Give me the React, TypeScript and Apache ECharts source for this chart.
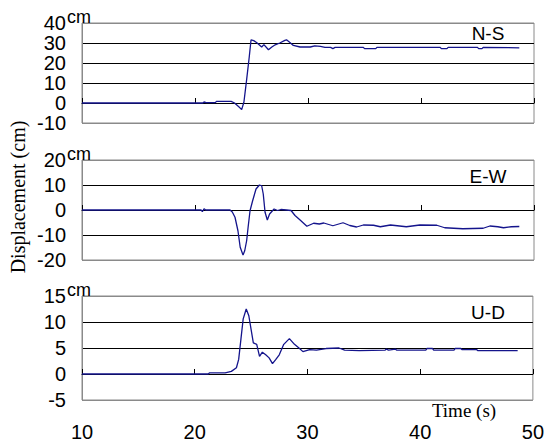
import React, { useEffect, useRef } from "react";
import * as echarts from "echarts";

// ---- Data (time in s, displacement in cm) ----
const nsData: [number, number][] = [
  [10, 0], [20.7, 0], [20.8, 0.5], [21.0, 0.2], [21.8, 0.2], [21.9, 0.8], [23.2, 0.8], [23.5, 0],
  [23.9, -2], [24.13, -3.3], [24.33, 0.5], [24.57, 11.7], [24.8, 23], [24.96, 31.6], [25.2, 31.2],
  [25.5, 30], [25.9, 28], [26.1, 29.2], [26.5, 26.6], [26.8, 28], [27.1, 29.1], [27.5, 30],
  [27.95, 31.3], [28.1, 31.6], [28.4, 30.3], [28.7, 28.8], [29.3, 28], [30.2, 28], [30.6, 28.6],
  [31.1, 28.3], [31.5, 27.8], [32.0, 27.8], [32.2, 27.2], [32.4, 27.8], [34.9, 27.8], [35.0, 27.2],
  [36.0, 27.2], [36.1, 27.8], [41.7, 27.8], [41.8, 27.2], [42.3, 27.2], [42.4, 27.8], [45.0, 27.8],
  [45.1, 27.2], [45.4, 27.2], [45.5, 27.8], [48.7, 27.6],
];

const ewData: [number, number][] = [
  [10, 0], [20.55, 0], [20.65, -0.7], [20.8, 0.5], [20.95, 0], [23.1, 0], [23.3, -0.8], [23.54, -2.9],
  [23.8, -8.3], [24.0, -14.9], [24.25, -18], [24.4, -16.3], [24.57, -12.3], [24.7, -6.9], [24.87, -0.3],
  [25.1, 3.7], [25.4, 8.4], [25.7, 10], [25.9, 9.7], [26.04, 6.4], [26.2, -0.9], [26.4, -4], [26.6, -1.6],
  [27.0, 0.4], [27.3, -0.2], [27.6, 0.2], [28.1, 0], [28.5, -0.2], [28.85, -2.2], [29.3, -4], [29.9, -6.5],
  [30.5, -5.3], [31.0, -5.6], [31.4, -5.2], [32.2, -6.3], [33.1, -5.1], [33.7, -6.2], [34.3, -6.8],
  [34.9, -6], [35.8, -6.1], [36.4, -6.7], [37.3, -6], [38.7, -6.7], [39.9, -6], [41.4, -6.1], [42.1, -7.1],
  [43.7, -7.5], [45.5, -7.3], [46.1, -6.4], [46.8, -6.7], [47.3, -7.1], [48.0, -6.7], [48.7, -6.6],
];

const udData: [number, number][] = [
  [10, 0], [21.2, 0], [21.3, 0.2], [22.7, 0.2], [23.25, 0.5], [23.7, 1.2], [23.9, 2.8], [24.1, 6.7],
  [24.3, 10.6], [24.57, 12.5], [24.8, 11.2], [25.0, 8.6], [25.2, 6.0], [25.5, 5.7], [25.75, 3.4],
  [26.0, 4.2], [26.3, 3.7], [26.6, 3.1], [26.9, 2.0], [27.2, 2.8], [27.5, 3.7], [27.9, 5.7], [28.4, 6.8],
  [28.85, 5.7], [29.3, 4.9], [29.6, 4.3], [30.2, 4.7], [30.8, 4.6], [31.65, 4.9], [32.8, 5.0], [33.3, 4.6],
  [34.6, 4.5], [36.9, 4.6], [37.0, 4.8], [37.2, 4.6], [37.8, 4.8], [37.9, 4.6], [40.5, 4.6], [40.6, 4.9],
  [41.1, 4.9], [41.2, 4.6], [43.0, 4.6], [43.1, 4.9], [43.6, 4.9], [43.7, 4.7], [45.0, 4.7], [45.1, 4.5],
  [48.65, 4.5],
];

const panelTitles = ["N-S", "E-W", "U-D"];
const yRanges: [number, number, number][] = [
  [-10, 40, 10],
  [-20, 20, 10],
  [-5, 15, 5],
];
const xRange: [number, number, number] = [10, 50, 10];

const SANS = "'Liberation Sans', Arial, sans-serif";
const SERIF = "'Liberation Serif', 'Times New Roman', serif";
const LINE = "#14148c";
const BORDER = "#8a8a8a";

export default function App() {
  const ref = useRef<HTMLDivElement>(null);

  useEffect(() => {
    if (!ref.current) return;
    const chart = echarts.init(ref.current, undefined, { renderer: "svg" });

    const grids = [
      { left: 82, top: 23, width: 452, height: 100 },
      { left: 82, top: 160, width: 452, height: 100 },
      { left: 82, top: 296, width: 452, height: 104 },
    ];
    const titleY = [33, 176, 312];
    const cmY = [17, 154, 290];
    const datasets = [nsData, ewData, udData];

    const splitColors = (r: [number, number, number]) => {
      const n = Math.round((r[1] - r[0]) / r[2]) + 1;
      const arr: string[] = [];
      for (let i = 0; i < n; i++) arr.push(i === 0 || i === n - 1 ? BORDER : "#000");
      return arr;
    };

    const xAxes: any[] = grids.map((_, i) => ({
      type: "value",
      gridIndex: i,
      min: xRange[0],
      max: xRange[1],
      interval: xRange[2],
      axisLine: { show: true, onZero: true, lineStyle: { color: "#000", width: 1 } },
      axisTick: { show: true, inside: true, length: 5, lineStyle: { color: "#000" } },
      axisLabel: { show: false },
      splitLine: { show: false },
    }));
    xAxes.push({
      type: "value",
      gridIndex: 2,
      position: "bottom",
      min: xRange[0],
      max: xRange[1],
      interval: xRange[2],
      axisLine: { show: false, onZero: false },
      axisTick: { show: false },
      axisLabel: {
        show: true,
        fontFamily: SANS,
        fontSize: 20,
        color: "#000",
        margin: 22,
        showMinLabel: true,
        showMaxLabel: true,
        hideOverlap: false,
      },
      splitLine: { show: false },
    });

    const yAxes = grids.map((_, i) => ({
      type: "value",
      gridIndex: i,
      min: yRanges[i][0],
      max: yRanges[i][1],
      interval: yRanges[i][2],
      axisLine: { show: true, onZero: false, lineStyle: { color: BORDER } },
      axisTick: { show: false },
      axisLabel: {
        fontFamily: SANS,
        fontSize: 20,
        color: "#000",
        margin: 16,
        showMinLabel: true,
        showMaxLabel: true,
        hideOverlap: false,
      },
      splitLine: { show: true, lineStyle: { color: splitColors(yRanges[i]), width: 1 } },
    }));

    const graphics: any[] = [];
    for (let i = 0; i < 3; i++) {
      graphics.push({
        type: "text",
        x: 488,
        y: titleY[i],
        style: {
          text: panelTitles[i],
          fontFamily: SANS,
          fontSize: 19,
          fill: "#000",
          align: "center",
          verticalAlign: "middle",
        },
      });
      graphics.push({
        type: "text",
        x: 67,
        y: cmY[i],
        style: {
          text: "cm",
          fontFamily: SANS,
          fontSize: 18,
          fill: "#000",
          align: "left",
          verticalAlign: "middle",
        },
      });
    }
    graphics.push({
      type: "text",
      x: 464,
      y: 410,
      style: {
        text: "Time (s)",
        fontFamily: SERIF,
        fontSize: 19,
        fill: "#000",
        align: "center",
        verticalAlign: "middle",
      },
    });
    graphics.push({
      type: "text",
      x: 18,
      y: 197,
      rotation: Math.PI / 2,
      style: {
        text: "Displacement (cm)",
        fontFamily: SERIF,
        fontSize: 20,
        fill: "#000",
        align: "center",
        verticalAlign: "middle",
      },
    });

    chart.setOption({
      animation: false,
      backgroundColor: "#fff",
      grid: grids.map((g) => ({ ...g, show: true, borderColor: BORDER, borderWidth: 1, backgroundColor: "transparent" })),
      xAxis: xAxes,
      yAxis: yAxes,
      series: datasets.map((d, i) => ({
        type: "line",
        xAxisIndex: i,
        yAxisIndex: i,
        data: d,
        showSymbol: false,
        symbol: "none",
        lineStyle: { color: LINE, width: 1.3 },
        z: 5,
      })),
      graphic: graphics,
    });

    return () => chart.dispose();
  }, []);

  return (
    <div
      ref={ref}
      style={{ position: "fixed", left: 0, top: 0, width: 547, height: 442, background: "#fff" }}
    />
  );
}
